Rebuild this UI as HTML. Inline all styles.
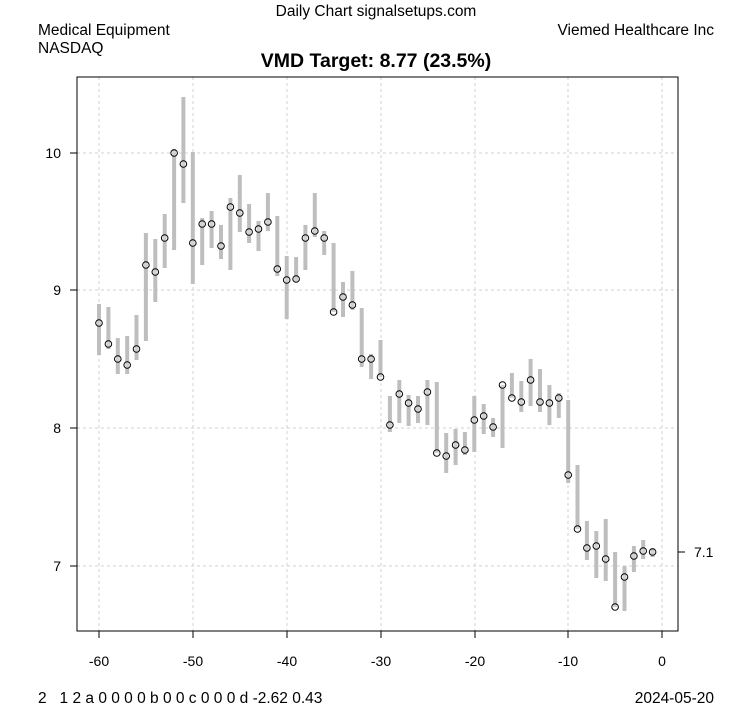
<!DOCTYPE html>
<html><head><meta charset="utf-8"><style>
html,body{margin:0;padding:0;background:#fff;}
svg{display:block;font-family:"Liberation Sans",Arial,sans-serif;}
</style></head><body>
<svg id="s" width="753" height="708" viewBox="0 0 753 708" xmlns="http://www.w3.org/2000/svg">
<rect width="753" height="708" fill="#fff"/>
<g stroke="#d0d0d0" stroke-dasharray="3,3" stroke-width="1">
<line x1="99" y1="77" x2="99" y2="631"/><line x1="193" y1="77" x2="193" y2="631"/>
<line x1="287" y1="77" x2="287" y2="631"/><line x1="381" y1="77" x2="381" y2="631"/>
<line x1="475" y1="77" x2="475" y2="631"/><line x1="568" y1="77" x2="568" y2="631"/>
<line x1="662" y1="77" x2="662" y2="631"/>
<line x1="77" y1="153" x2="678" y2="153"/><line x1="77" y1="290" x2="678" y2="290"/>
<line x1="77" y1="428" x2="678" y2="428"/><line x1="77" y1="566" x2="678" y2="566"/>
</g>
<g id="bars"></g>
<rect x="77" y="77" width="601" height="554" fill="none" stroke="#000" stroke-width="1"/>
<g stroke="#000">
<line x1="99" y1="631" x2="99" y2="638"/><line x1="193" y1="631" x2="193" y2="638"/>
<line x1="287" y1="631" x2="287" y2="638"/><line x1="381" y1="631" x2="381" y2="638"/>
<line x1="475" y1="631" x2="475" y2="638"/><line x1="568" y1="631" x2="568" y2="638"/>
<line x1="662" y1="631" x2="662" y2="638"/>
<line x1="70" y1="153" x2="77" y2="153"/><line x1="70" y1="290" x2="77" y2="290"/>
<line x1="70" y1="428" x2="77" y2="428"/><line x1="70" y1="566" x2="77" y2="566"/>
<line x1="678" y1="552" x2="685" y2="552"/>
</g>
<g font-size="14" fill="#000" text-anchor="middle">
<text x="99" y="666">-60</text><text x="193" y="666">-50</text><text x="287" y="666">-40</text>
<text x="381" y="666">-30</text><text x="475" y="666">-20</text><text x="568" y="666">-10</text>
<text x="662" y="666">0</text>
</g>
<g font-size="14" fill="#000" text-anchor="end">
<text x="61" y="158">10</text><text x="61" y="295">9</text><text x="61" y="433">8</text><text x="61" y="571">7</text>
</g>
<text x="694" y="557" font-size="14">7.1</text>
<text x="376" y="16" font-size="15.5" text-anchor="middle">Daily Chart signalsetups.com</text>
<text x="38" y="35" font-size="15.5">Medical Equipment</text>
<text x="38" y="53" font-size="15.5">NASDAQ</text>
<text x="714" y="35" font-size="15.5" text-anchor="end">Viemed Healthcare Inc</text>
<text x="376" y="67" font-size="19.5" font-weight="bold" text-anchor="middle">VMD Target: 8.77 (23.5%)</text>
<text x="38" y="703" font-size="15.5" style="white-space:pre" xml:space="preserve">2   1 2 a 0 0 0 0 b 0 0 c 0 0 0 d -2.62 0.43</text>
<text x="714" y="703" font-size="15.5" text-anchor="end">2024-05-20</text>
</svg>
<script>
var d=[[323,304,355],[344,307,349],[359,338,374],[365,336,374],[349,315,360],[265,233,341],[272,239,302],[238,214,268],[153,149,250],[164,97,203],[243,152,284],[224,218,265],[224,211,248],[246,225,259],[207,198,270],[213,175,232],[232,204,243],[229,221,251],[222,193,231],[269,216,276],[280,256,319],[279,257,282],[238,225,270],[231,193,237],[238,231,255],[312,243,312],[297,282,317],[305,271,310],[359,308,367],[359,354,379],[377,340,377],[425,396,432],[394,380,423],[403,395,426],[409,396,423],[392,380,425],[453,382,453],[456,433,473],[445,429,465],[450,432,455],[420,396,452],[416,404,434],[427,418,437],[385,385,448],[398,373,398],[402,381,412],[380,359,406],[402,369,412],[403,385,425],[398,393,418],[475,400,483],[529,465,529],[548,521,560],[546,531,578],[559,519,581],[607,552,607],[577,566,611],[556,546,572],[551,540,559],[552,548,557]];
var g=document.getElementById('bars'),h='';
for(var i=0;i<d.length;i++){var x=(99+i*563/60).toFixed(1);
h+='<line x1="'+x+'" y1="'+d[i][1]+'" x2="'+x+'" y2="'+d[i][2]+'" stroke="#bebebe" stroke-width="4"/>';}
for(var i=0;i<d.length;i++){var x=(99+i*563/60).toFixed(1);
h+='<circle cx="'+x+'" cy="'+d[i][0]+'" r="3.3" fill="#fff" fill-opacity="0.3" stroke="#000" stroke-width="1"/>';}
g.innerHTML=h;
</script>
</body></html>
